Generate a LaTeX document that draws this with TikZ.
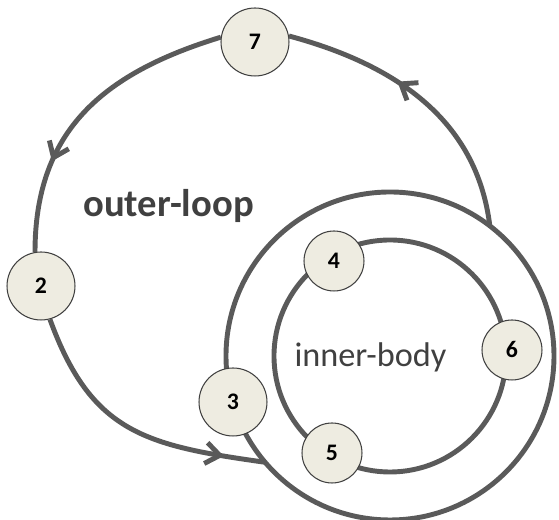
\documentclass[tikz,border=0pt]{standalone}
\usepackage{fontspec}
\setmainfont{Carlito}
\usetikzlibrary{arrows.meta,decorations.markings}
\definecolor{loopgray}{HTML}{5A5A5A}
\definecolor{nodefill}{HTML}{EEECE1}
\definecolor{labelgray}{HTML}{404040}
\begin{document}
\begin{tikzpicture}[x=0.02cm,y=0.02cm,
  loopline/.style={line width=2.8pt,draw=loopgray},
  midarrow/.style={postaction={decorate},decoration={markings,
    mark=at position #1 with {\arrow{Straight Barb[length=8pt,width=12pt]}}}},
  outernode/.style={circle,draw=black!75,line width=0.6pt,fill=nodefill,
    minimum size=1.36cm,inner sep=0pt,font=\fontsize{13.5}{16}\selectfont\bfseries},
  innernode/.style={outernode,minimum size=1.2cm}]
  \useasboundingbox (0,0) rectangle (559,520);
  \coordinate (ring) at (390,164);
  \draw[loopline] (ring) circle[radius=164];
  \draw[loopline] (ring) circle[radius=116];
  \node[outernode] (n7) at (255,478) {7};
  \node[outernode] (n2) at (41,234) {2};
  \node[outernode] (n3) at (233,118) {3};
  \node[innernode] (n4) at (334,259) {4};
  \node[innernode] (n5) at (332,67) {5};
  \node[innernode] (n6) at (512,170) {6};
  \coordinate (ringout) at ([shift={(52.5:164)}]ring);
  \coordinate (ringin) at ([shift={(220.4:164)}]ring);
  \draw[loopline,midarrow=0.6] (ringout) to[out=97,in=-15] (n7.10);
  \draw[loopline,midarrow=0.7] (n7.172) to[out=197,in=90,looseness=1.1] (n2.100);
  \draw[loopline,midarrow=0.85] (n2.-75) to[out=-70,in=172,looseness=1.2] (ringin);
  \node[font=\fontsize{22}{26}\selectfont\bfseries,text=labelgray,anchor=base] (outer) at (168.5,303) {outer-loop};
  \node[font=\fontsize{19.5}{23}\selectfont,text=labelgray,anchor=base] (inner) at (370.5,153) {inner-body};
\end{tikzpicture}
\end{document}
